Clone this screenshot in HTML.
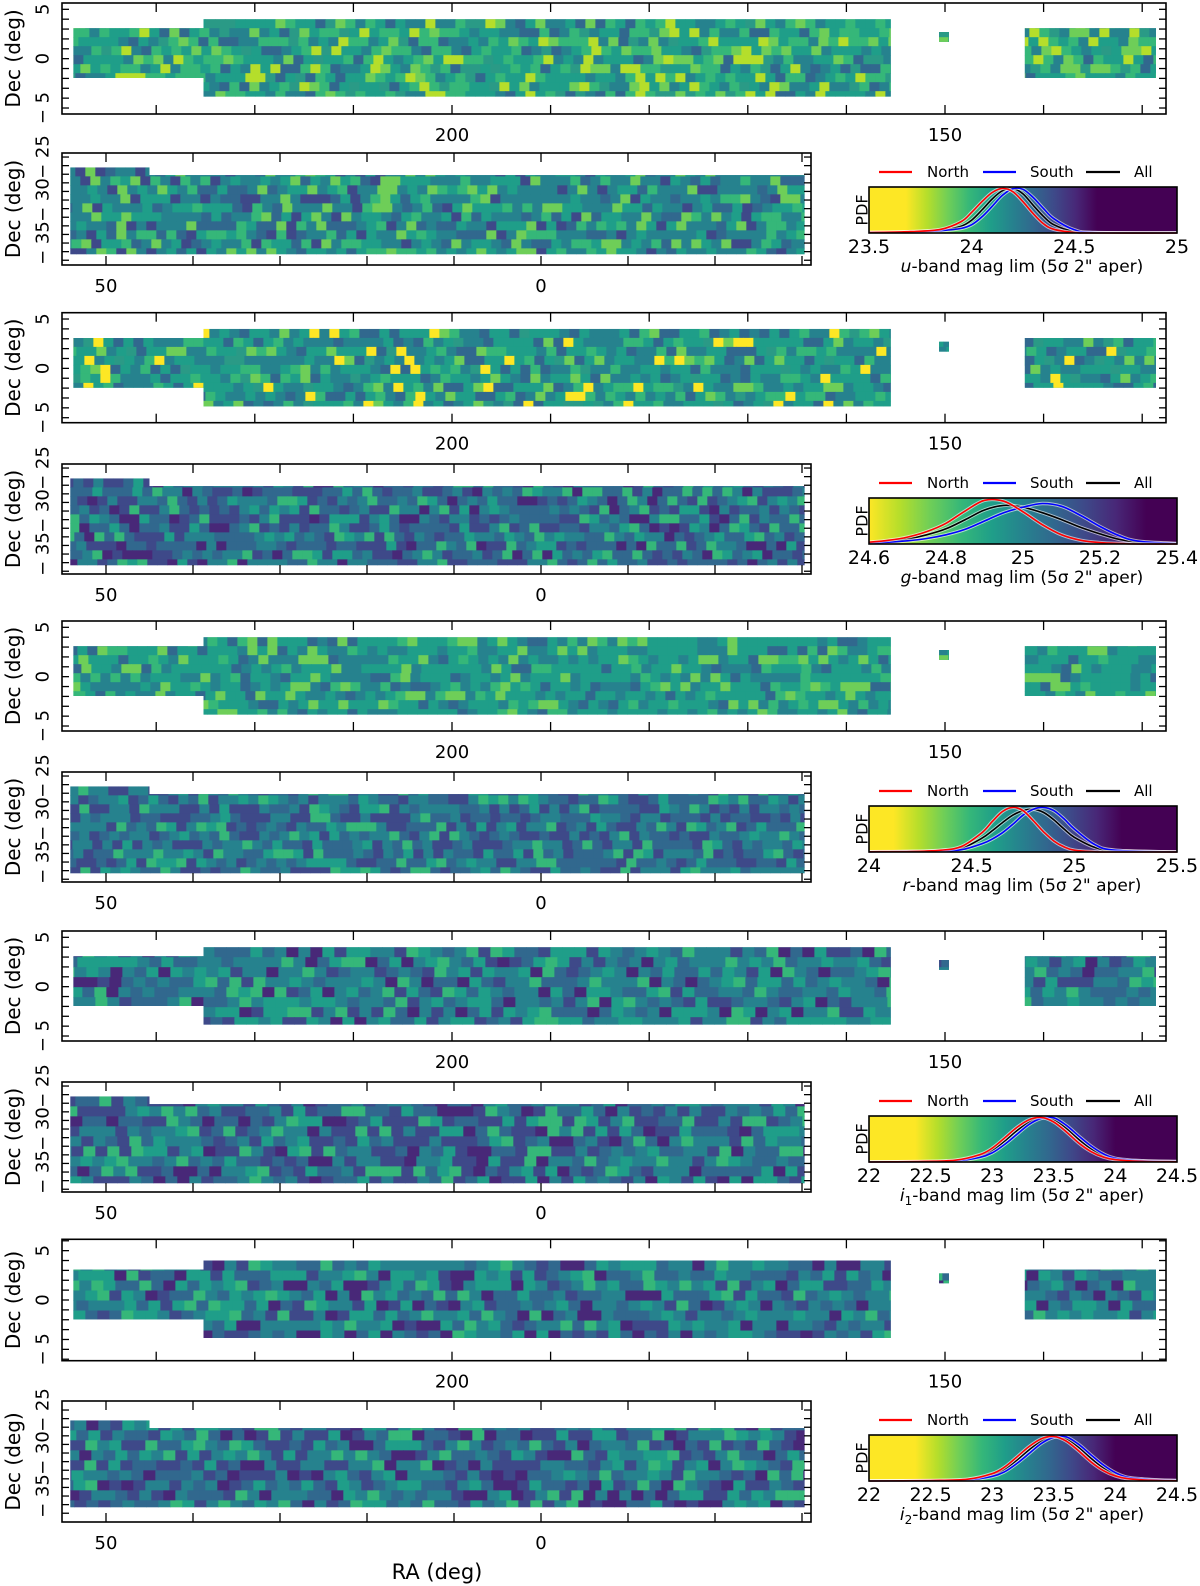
<!DOCTYPE html>
<html><head><meta charset="utf-8"><style>
html,body{margin:0;padding:0;background:#fff;}
svg{display:block;font-family:"DejaVu Sans","Liberation Sans",sans-serif;}
</style></head><body>
<svg id="fig" xmlns="http://www.w3.org/2000/svg" width="1200" height="1586" viewBox="0 0 1200 1586">
<defs id="defs"></defs>
<text x="437" y="1579" font-size="21" text-anchor="middle">RA (deg)</text>
</svg>
<script>
// ---- data ----
const bandNames = ['u','g','r','i1','i2'];
const pdfRange = [[23.5,25],[24.6,25.4],[24,25.5],[22,24.5],[22,24.5]];
const pdfTicks = [[23.5,24,24.5,25],[24.6,24.8,25,25.2,25.4],[24,24.5,25,25.5],[22,22.5,23,23.5,24,24.5],[22,22.5,23,23.5,24,24.5]];
const pdfTickLabels = [['23.5','24','24.5','25'],['24.6','24.8','25','25.2','25.4'],['24','24.5','25','25.5'],['22','22.5','23','23.5','24','24.5'],['22','22.5','23','23.5','24','24.5']];
const cbYellowEnd = [0.12,0.0,0.08,0.15,0.15];
const cbPurpleStart = [0.74,0.9,0.82,0.8,0.8];
const xsU = [23.5,23.7,23.85,23.95,24.0,24.05,24.1,24.15,24.2,24.25,24.3,24.35,24.4,24.5,24.6,25];
const northU = [0.01,0.03,0.08,0.25,0.45,0.68,0.88,0.97,0.9,0.68,0.42,0.2,0.08,0.01,0,0];
const southU = [0.01,0.02,0.05,0.1,0.18,0.35,0.58,0.82,0.96,0.95,0.77,0.53,0.31,0.07,0.01,0];
const allU = [0.01,0.025,0.06,0.15,0.28,0.5,0.74,0.92,0.97,0.85,0.6,0.36,0.18,0.03,0.005,0];
const xsG = [24.6,24.65,24.7,24.75,24.8,24.85,24.9,24.95,25.0,25.05,25.1,25.15,25.2,25.25,25.3,25.4];
const northG = [0.04,0.08,0.15,0.27,0.45,0.72,0.95,0.93,0.7,0.42,0.2,0.08,0.03,0.01,0,0];
const southG = [0.02,0.04,0.07,0.12,0.2,0.32,0.5,0.68,0.8,0.88,0.82,0.62,0.38,0.18,0.06,0.01];
const allG = [0.03,0.06,0.11,0.2,0.33,0.53,0.74,0.84,0.8,0.68,0.53,0.36,0.22,0.1,0.04,0.005];
const xsR = [24,24.2,24.35,24.45,24.55,24.6,24.65,24.7,24.75,24.8,24.85,24.9,24.95,25.0,25.1,25.2,25.5];
const northR = [0.005,0.01,0.04,0.12,0.42,0.66,0.88,0.97,0.9,0.68,0.44,0.24,0.11,0.04,0.005,0,0];
const southR = [0,0.01,0.02,0.05,0.18,0.28,0.42,0.6,0.8,0.93,0.97,0.9,0.72,0.5,0.16,0.04,0];
const allR = [0.005,0.01,0.03,0.08,0.3,0.46,0.64,0.8,0.9,0.93,0.86,0.7,0.5,0.32,0.1,0.03,0];
const xsI1 = [22,22.4,22.7,22.9,23.0,23.1,23.2,23.3,23.4,23.5,23.6,23.7,23.8,23.9,24.0,24.2,24.5];
const northI1 = [0,0.01,0.04,0.16,0.3,0.52,0.75,0.92,0.97,0.87,0.66,0.42,0.23,0.11,0.05,0.015,0.005];
const southI1 = [0,0.005,0.02,0.1,0.2,0.38,0.6,0.82,0.95,0.96,0.8,0.57,0.35,0.18,0.08,0.03,0.01];
const allI1 = [0,0.007,0.03,0.13,0.25,0.45,0.68,0.87,0.97,0.92,0.74,0.5,0.29,0.14,0.06,0.02,0.008];
const xsI2 = [22,22.5,22.8,23.0,23.1,23.2,23.3,23.4,23.5,23.6,23.7,23.8,23.9,24.0,24.1,24.3,24.5];
const northI2 = [0,0.01,0.04,0.16,0.3,0.52,0.75,0.92,0.97,0.87,0.66,0.42,0.23,0.11,0.05,0.015,0.005];
const southI2 = [0,0.005,0.02,0.1,0.2,0.38,0.6,0.82,0.95,0.96,0.8,0.57,0.35,0.18,0.08,0.03,0.01];
const allI2 = [0,0.007,0.03,0.13,0.25,0.45,0.68,0.87,0.97,0.92,0.74,0.5,0.29,0.14,0.06,0.02,0.008];
const pdfXs = [xsU,xsG,xsR,xsI1,xsI2];
const pdfNorth = [northU,northG,northR,northI1,northI2];
const pdfSouth = [southU,southG,southR,southI1,southI2];
const pdfAll = [allU,allG,allR,allI1,allI2];
// footprints [raStart, raEnd, decTop, decBottom]
const northBlocks = [[238.4,225.2,3.08,-1.96],[225.2,155.5,4.0,-3.85],[150.6,149.6,2.7,1.7],[141.9,128.6,3.08,-1.96]];
const southBlocks = [[54.1,45,-26.2,-36.3],[45,-30.3,-27.1,-36.3]];
const northRaTicks = [230,220,210,200,190,180,170,160,150,140,130];
const northRaLabels = [200,150];
const southRaTicks = [50,40,30,20,10,0,-10,-20,-30];
const southRaLabels = [50,0];
const northDecLabels = [5,0,-5];
const southDecLabels = [-25,-30,-35];
// tile colour palettes (texture)
const palN = [
 ['#1f9e89','#35b779','#26828e','#6ece58','#1f9e89','#35b779','#31688e','#b5de2b','#1f9e89','#26828e','#35b779','#2a9a86'],
 ['#1f9e89','#26828e','#35b779','#1f9e89','#31688e','#6ece58','#26828e','#1f9e89','#fde725','#35b779','#26828e','#1f9e89','#2a9a86','#31688e','#26828e','#1f9e89'],
 ['#1f9e89','#26828e','#35b779','#1f9e89','#31688e','#26828e','#1f9e89','#6ece58','#1f9e89'],
 ['#26828e','#1f9e89','#31688e','#26828e','#3e4989','#1f9e89','#35b779','#31688e','#26828e','#482878'],
 ['#26828e','#31688e','#1f9e89','#3e4989','#26828e','#31688e','#35b779','#26828e','#482878','#1f9e89']];
const palS = [
 ['#26828e','#1f9e89','#31688e','#35b779','#26828e','#1f9e89','#3e4989','#6ece58','#26828e'],
 ['#31688e','#3e4989','#26828e','#482878','#31688e','#1f9e89','#3e4989','#26828e','#35b779','#31688e'],
 ['#31688e','#26828e','#3e4989','#1f9e89','#31688e','#26828e','#3e4989','#35b779'],
 ['#31688e','#26828e','#3e4989','#482878','#1f9e89','#31688e','#3e4989','#26828e','#35b779'],
 ['#31688e','#26828e','#3e4989','#482878','#1f9e89','#31688e','#3e4989','#26828e','#35b779']];

// ---- layout ----
const northTop=[3,312.7,621,931,1239.3], northH=[111,110,110,110,121.4];
const southTop=[153,464,772,1082,1401], southH=[112,110,110,110,121];
const northDecTop=[5.64,5.64,5.64,5.64,6.15], southDecTop=[-24.53,-24.53,-24.53,-24.53,-23.95];
const NX0=62,NX1=1166,SX0=62,SX1=811;
const nx = ra => 452+(200-ra)*9.86;
const ny = (b,d) => northTop[b]+(northDecTop[b]-d)*9.87;
const sx = ra => 541-ra*8.7;
const sy = (b,d) => southTop[b]+(southDecTop[b]-d)*8.6;
const NS='http://www.w3.org/2000/svg';
const svg=document.getElementById('fig');
const defs=document.getElementById('defs');
function el(tag,attrs,parent){const e=document.createElementNS(NS,tag);for(const k in attrs)e.setAttribute(k,attrs[k]);(parent||svg).appendChild(e);return e;}
const viridis=['#fde725','#b5de2b','#6ece58','#35b779','#1f9e89','#26828e','#31688e','#3e4989','#482878','#440154'];
function mix(i,j,s){let h=Math.imul(i+1013,374761393)+Math.imul(j+7919,668265263)+Math.imul(s+31,2246822519);h=Math.imul(h^(h>>>13),1274126177);h^=h>>>16;return h>>>0;}

function drawMap(b,isNorth){
  const g=el('g',{});
  
  
  const X=isNorth?nx:sx, Y=isNorth?(d=>ny(b,d)):(d=>sy(b,d));
  const blocks=isNorth?northBlocks:southBlocks;
  const cid='clip'+(isNorth?'N':'S')+b;
  const cp=el('clipPath',{id:cid},defs);
  blocks.forEach(k=>{const x0=X(k[0]),x1=X(k[1]),y0=Y(k[2]),y1=Y(k[3]);
    el('rect',{x:Math.min(x0,x1),y:y0,width:Math.abs(x1-x0),height:y1-y0},cp);});
  const tg=el('g',{'clip-path':'url(#'+cid+')'},g);
  const pal=isNorth?palN[b]:palS[b];
  const big=b>=3;
  const tw=big?12:10, th=big?10:9;
  let minx=1e9,maxx=-1e9,miny=1e9,maxy=-1e9;
  blocks.forEach(k=>{minx=Math.min(minx,X(k[0]),X(k[1]));maxx=Math.max(maxx,X(k[0]),X(k[1]));miny=Math.min(miny,Y(k[2]));maxy=Math.max(maxy,Y(k[3]));});
  el('rect',{x:minx,y:miny,width:maxx-minx,height:maxy-miny,fill:pal[0]},tg);
  const seed=b*2+(isNorth?0:1);
  for(let j=0;j*th<maxy-miny+th;j++){
    const off=(mix(j,0,seed+99)%tw);
    for(let i=-1;i*tw<maxx-minx+tw;i++){
      const c=pal[mix(i,j,seed)%pal.length];
      el('rect',{x:minx+i*tw+off,y:miny+j*th,width:tw+0.5,height:th+0.5,fill:c},tg);
    }
  }
}

function frame(x0,y0,x1,y1,name){
  const r=el('rect',{x:x0,y:y0,width:x1-x0,height:y1-y0,fill:'none',stroke:'#000','stroke-width':1.6});
  
  
}
function decLabel(x,y,txt,name,fs){
  const t=el('text',{x:0,y:0,transform:'translate('+x+','+y+') rotate(-90)','font-size':fs,'text-anchor':'middle','dominant-baseline':'central'});
  t.textContent=txt;
  
  
}
function axes(b,isNorth){
  const top=isNorth?northTop[b]:southTop[b], bot=top+(isNorth?northH[b]:southH[b]);
  const x0=isNorth?NX0:SX0, x1=isNorth?NX1:SX1;
  const X=isNorth?nx:sx, Y=isNorth?(d=>ny(b,d)):(d=>sy(b,d));
  const pre=(isNorth?'north-':'south-')+bandNames[b];
  frame(x0,top,x1,bot,pre+'-frame');
  const tg=el('g',{stroke:'#000','stroke-width':1.3});
  
  
  (isNorth?northRaTicks:southRaTicks).forEach(ra=>{const x=X(ra); if(x<=x0||x>=x1)return;
    el('line',{x1:x,y1:top,x2:x,y2:top+9},tg); el('line',{x1:x,y1:bot,x2:x,y2:bot-9},tg);});
  const dTop=isNorth?northDecTop[b]:southDecTop[b];
  for(let d=Math.floor(dTop);d>dTop-16;d--){const y=Y(d); if(y<=top+1||y>=bot-1)continue;
    el('line',{x1:x0,y1:y,x2:x0+7,y2:y},tg); el('line',{x1:x1,y1:y,x2:x1-7,y2:y},tg);}
  (isNorth?northRaLabels:southRaLabels).forEach(ra=>{
    const t=el('text',{x:X(ra),y:bot+27,'font-size':18,'text-anchor':'middle'});
    t.textContent=String(ra);
    
    
  });
  (isNorth?northDecLabels:southDecLabels).forEach(d=>{
    decLabel(43,Y(d),(d<0?'\u2212 ':'')+Math.abs(d),pre+'-dec-tick-label',18);
  });
  decLabel(13,(top+bot)/2,'Dec (deg)',pre+'-dec-axis-title',20);
}

function smooth(pts){
  let d='M'+pts[0][0]+','+pts[0][1];
  for(let i=0;i<pts.length-1;i++){
    const p0=pts[Math.max(0,i-1)],p1=pts[i],p2=pts[i+1],p3=pts[Math.min(pts.length-1,i+2)];
    const c1=[p1[0]+(p2[0]-p0[0])/6,p1[1]+(p2[1]-p0[1])/6], c2=[p2[0]-(p3[0]-p1[0])/6,p2[1]-(p3[1]-p1[1])/6];
    d+=' C'+c1[0].toFixed(1)+','+c1[1].toFixed(1)+' '+c2[0].toFixed(1)+','+c2[1].toFixed(1)+' '+p2[0].toFixed(1)+','+p2[1].toFixed(1);
  }
  return d;
}

function inset(b){
  const bx0=869,bx1=1177,bt=southTop[b]+34,bh=46,bb=bt+bh;
  const r=pdfRange[b];
  const px=v=>bx0+(v-r[0])/(r[1]-r[0])*(bx1-bx0);
  const py=v=>bb-v*bh;
  const gid='cb'+b;
  const lg=el('linearGradient',{id:gid,x1:0,x2:1,y1:0,y2:0},defs);
  const a=cbYellowEnd[b], z=cbPurpleStart[b];
  viridis.forEach((c,k)=>el('stop',{offset:(a+(z-a)*k/(viridis.length-1)),'stop-color':c},lg));
  const g=el('g',{});
  
  
  const cb=el('rect',{x:bx0,y:bt,width:bx1-bx0,height:bh,fill:'url(#'+gid+')'},g);
  
  
  const series=[[pdfAll[b],'#000','all'],[pdfSouth[b],'#0000ff','south'],[pdfNorth[b],'#ff0000','north']];
  series.forEach(s=>{
    const pts=pdfXs[b].map((x,i)=>[px(x),py(s[0][i])]);
    const d=smooth(pts);
    el('path',{d:d,fill:'none',stroke:'#fff','stroke-opacity':0.6,'stroke-width':3.5},g);
    const p=el('path',{d:d,fill:'none',stroke:s[1],'stroke-width':1.6},g);
    
    
  });
  el('rect',{x:bx0,y:bt,width:bx1-bx0,height:bh,fill:'none',stroke:'#000','stroke-width':1.6},g);
  const yl=el('text',{x:0,y:0,transform:'translate(862,'+(bt+bh/2)+') rotate(-90)','font-size':16,'text-anchor':'middle','dominant-baseline':'central'},g);
  yl.textContent='PDF';
  
  
  pdfTicks[b].forEach((v,i)=>{
    const t=el('text',{x:px(v),y:bb+20,'font-size':19,'text-anchor':'middle'},g);
    t.textContent=pdfTickLabels[b][i];
    
    
  });
  const xl=el('text',{x:1022,y:bb+39,'font-size':17,'text-anchor':'middle'},g);
  const bn=bandNames[b];
  xl.innerHTML='<tspan font-style="italic">'+bn[0]+'</tspan>'+(bn.length>1?'<tspan font-size="12" dy="4">'+bn[1]+'</tspan><tspan dy="-4">-band mag lim (5σ 2" aper)</tspan>':'-band mag lim (5σ 2" aper)');
  
  
  const ly=bt-15;
  const leg=[[879,912,'#ff0000',927,'North'],[983,1016,'#0000ff',1030,'South'],[1086,1120,'#000',1134,'All']];
  leg.forEach(l=>{
    const e=el('g',{},g);
    
    
    el('line',{x1:l[0],y1:ly,x2:l[1],y2:ly,stroke:l[2],'stroke-width':2.2},e);
    const t=el('text',{x:l[3],y:ly+5,'font-size':15},e);
    t.textContent=l[4];
  });
}

for(let b=0;b<5;b++){
  drawMap(b,true); axes(b,true);
  drawMap(b,false); axes(b,false);
  inset(b);
}
</script>
</body></html>
